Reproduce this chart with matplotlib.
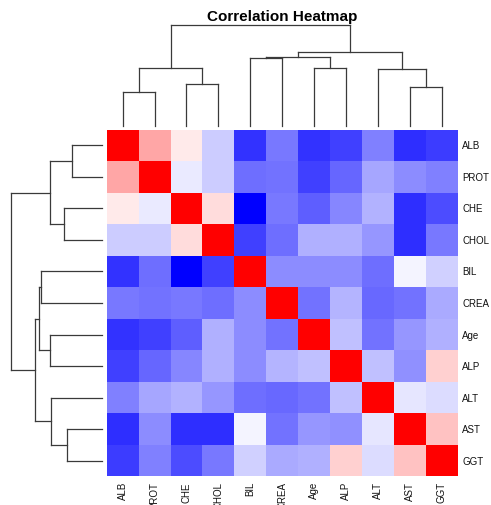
import matplotlib
matplotlib.use("Agg")
import matplotlib.pyplot as plt
import numpy as np
from matplotlib.colors import LinearSegmentedColormap

plt.rcParams['font.family'] = ['Liberation Sans', 'DejaVu Sans']

labels = ['ALB', 'PROT', 'CHE', 'CHOL', 'BIL', 'CREA', 'Age', 'ALP', 'ALT', 'AST', 'GGT']

# correlation matrix, rows/cols already in cluster order
corr = [
    [1.00, 0.35, 0.08, -0.20, -0.80, -0.53, -0.80, -0.75, -0.50, -0.82, -0.76],
    [0.35, 1.00, -0.08, -0.20, -0.57, -0.55, -0.75, -0.60, -0.35, -0.45, -0.50],
    [0.08, -0.08, 1.00, 0.14, -1.00, -0.53, -0.63, -0.47, -0.30, -0.82, -0.70],
    [-0.20, -0.20, 0.14, 1.00, -0.75, -0.57, -0.31, -0.31, -0.41, -0.82, -0.53],
    [-0.80, -0.57, -1.00, -0.75, 1.00, -0.45, -0.45, -0.45, -0.57, -0.04, -0.18],
    [-0.53, -0.55, -0.53, -0.57, -0.45, 1.00, -0.55, -0.29, -0.59, -0.55, -0.33],
    [-0.80, -0.75, -0.63, -0.31, -0.45, -0.55, 1.00, -0.25, -0.55, -0.41, -0.31],
    [-0.75, -0.60, -0.47, -0.31, -0.45, -0.29, -0.25, 1.00, -0.25, -0.43, 0.18],
    [-0.50, -0.35, -0.30, -0.41, -0.57, -0.59, -0.55, -0.25, 1.00, -0.10, -0.14],
    [-0.82, -0.45, -0.82, -0.82, -0.04, -0.55, -0.41, -0.43, -0.10, 1.00, 0.24],
    [-0.76, -0.50, -0.70, -0.53, -0.18, -0.33, -0.31, 0.18, -0.14, 0.24, 1.00],
]

# dendrogram merges: leaves are 0..10, merged nodes numbered from 11 up
merges = [(0, 1), (2, 3), (11, 12), (4, 5), (6, 7), (14, 15), (9, 10), (8, 17), (16, 18), (13, 19)]
merge_heights = [0.33, 0.41, 0.57, 0.67, 0.57, 0.685, 0.38, 0.56, 0.73, 1.00]

W, H = 491, 506
fig = plt.figure(figsize=(W / 100, H / 100), dpi=100)

def px_axes(x0, y0, x1, y1):
    return fig.add_axes([x0 / W, 1 - y1 / H, (x1 - x0) / W, (y1 - y0) / H])

hm_x0, hm_y0, hm_x1, hm_y1 = 106.7, 130.7, 457.7, 477.3
n = len(labels)

ax = px_axes(hm_x0, hm_y0, hm_x1, hm_y1)
cmap = LinearSegmentedColormap.from_list('bwr_r', ['blue', 'white', 'red'])
ax.pcolormesh(np.arange(n + 1) - 0.5, np.arange(n + 1) - 0.5, np.array(corr),
              cmap=cmap, vmin=-1, vmax=1)
ax.set_xlim(-0.5, n - 0.5)
ax.set_ylim(n - 0.5, -0.5)
for s in ax.spines.values():
    s.set_visible(False)
ax.set_xticks([])
ax.set_yticks([])
for i, lab in enumerate(labels):
    ax.text(n - 0.5 + 0.14, i, lab, ha='left', va='center', fontsize=7, color='#111111')
    ax.text(i, n - 0.5 + 0.15, lab, ha='center', va='top', rotation=90, fontsize=7,
            color='#111111')

def dendro_segments():
    pos = {i: float(i) for i in range(n)}
    hgt = {i: 0.0 for i in range(n)}
    segs = []
    for k, ((a, b), h) in enumerate(zip(merges, merge_heights)):
        node = n + k
        segs.append(([pos[a], pos[a]], [hgt[a], h]))
        segs.append(([pos[b], pos[b]], [hgt[b], h]))
        segs.append(([pos[a], pos[b]], [h, h]))
        pos[node] = (pos[a] + pos[b]) / 2
        hgt[node] = h
    return segs

segs = dendro_segments()
lc = '#3a3a3a'

# column dendrogram
axt = px_axes(hm_x0, 25.7, hm_x1, 126.7)
for xs, ys in segs:
    axt.plot(xs, ys, color=lc, lw=0.9, clip_on=False)
axt.set_xlim(-0.5, n - 0.5)
axt.set_ylim(0, 1)
axt.axis('off')

# row dendrogram
axl = px_axes(10.7, hm_y0, 101.7, hm_y1)
for xs, ys in segs:
    axl.plot(ys, xs, color=lc, lw=0.9, clip_on=False)
axl.set_xlim(1, 0)
axl.set_ylim(n - 0.5, -0.5)
axl.axis('off')

fig.text((hm_x0 + hm_x1) / 2 / W, 1 - 17 / H, 'Correlation Heatmap', ha='center', va='center',
         fontsize=11, fontweight='bold')

fig.savefig('out.png', dpi=100)
